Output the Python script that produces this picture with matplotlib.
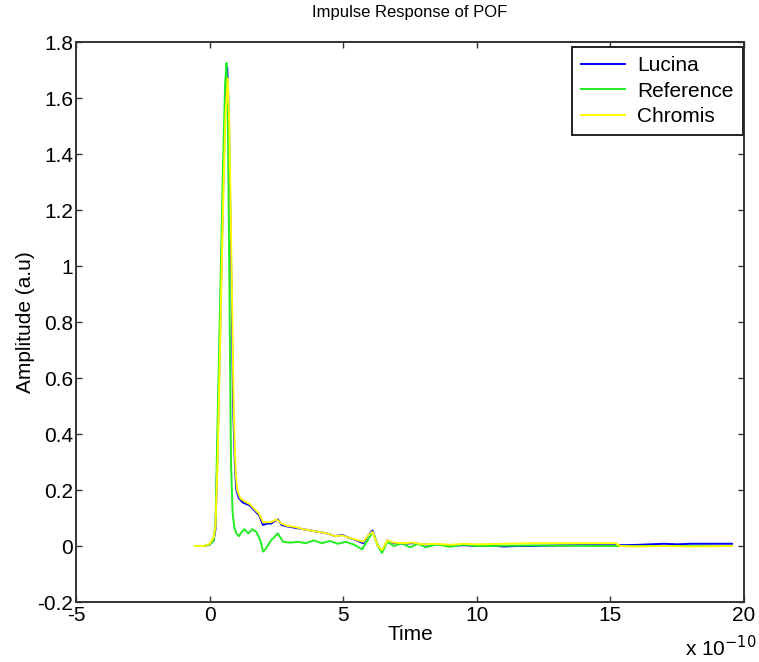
import matplotlib
matplotlib.use('Agg')
import matplotlib.pyplot as plt

plt.rcParams['font.family'] = ['Liberation Sans', 'DejaVu Sans']

# time in units of 1e-10 s
lucina_t = [-0.55, -0.2, 0.0, 0.15, 0.22, 0.3, 0.4, 0.5, 0.6, 0.66, 0.72, 0.8, 0.88, 0.95,
            1.0, 1.1, 1.25, 1.5, 1.7, 1.85, 2.0, 2.15, 2.3, 2.45, 2.55, 2.7, 2.9, 3.2, 3.5,
            3.8, 4.1, 4.4, 4.7, 4.95, 5.2, 5.5, 5.75, 5.95, 6.1, 6.3, 6.45, 6.65, 6.9, 7.2,
            7.6, 8.0, 8.5, 9.0, 9.5, 10.0, 10.5, 11.0, 11.5, 12.0, 13.0, 14.0, 15.0, 15.5,
            16.0, 16.5, 17.0, 17.5, 18.0, 19.0, 19.55]
lucina_a = [0.0, 0.0, 0.005, 0.02, 0.06, 0.35, 0.8, 1.25, 1.6, 1.71, 1.55, 1.05, 0.5, 0.28,
            0.2, 0.17, 0.155, 0.145, 0.125, 0.11, 0.075, 0.08, 0.08, 0.09, 0.095, 0.075, 0.07,
            0.065, 0.06, 0.055, 0.05, 0.045, 0.035, 0.04, 0.03, 0.02, 0.01, 0.04, 0.055, 0.0,
            -0.02, 0.02, 0.01, 0.008, 0.01, 0.005, 0.006, 0.0, 0.003, 0.0, 0.002, -0.002, 0.0,
            0.0, 0.002, 0.003, 0.003, 0.003, 0.004, 0.006, 0.008, 0.006, 0.008, 0.008, 0.008]

ref_t = [-0.55, -0.2, 0.0, 0.15, 0.22, 0.3, 0.4, 0.5, 0.58, 0.63, 0.68, 0.74, 0.8, 0.86,
         0.92, 1.0, 1.1, 1.2, 1.3, 1.45, 1.6, 1.75, 1.9, 2.0, 2.1, 2.3, 2.55, 2.75, 3.0, 3.3,
         3.6, 3.9, 4.2, 4.5, 4.8, 5.1, 5.4, 5.7, 5.85, 6.1, 6.3, 6.45, 6.65, 6.9, 7.2, 7.5,
         7.8, 8.1, 8.5, 9.0, 9.5, 10.0, 12.0, 15.0, 19.55]
ref_a = [0.0, 0.0, 0.005, 0.02, 0.08, 0.45, 0.9, 1.35, 1.65, 1.725, 1.55, 0.95, 0.3, 0.12,
         0.07, 0.045, 0.035, 0.05, 0.06, 0.045, 0.06, 0.05, 0.02, -0.02, -0.01, 0.02, 0.045,
         0.015, 0.012, 0.015, 0.01, 0.02, 0.01, 0.018, 0.008, 0.015, 0.005, -0.012, 0.01,
         0.05, 0.0, -0.025, 0.015, 0.0, 0.01, -0.005, 0.008, -0.005, 0.006, -0.003, 0.005,
         0.0, 0.002, 0.0, 0.0]

chromis_t = [-0.55, -0.2, 0.0, 0.15, 0.22, 0.3, 0.4, 0.5, 0.6, 0.68, 0.74, 0.82, 0.9, 0.97,
             1.03, 1.15, 1.3, 1.5, 1.7, 1.85, 2.0, 2.15, 2.3, 2.5, 2.7, 2.9, 3.2, 3.5, 3.8,
             4.1, 4.4, 4.7, 4.95, 5.2, 5.5, 5.75, 5.95, 6.1, 6.3, 6.45, 6.65, 6.9, 7.2, 7.6,
             8.0, 8.5, 9.0, 9.5, 10.0, 11.0, 12.0, 13.0, 14.0, 15.0, 15.2, 15.35, 16.0, 17.0,
             18.0, 19.55]
chromis_a = [0.0, 0.0, 0.008, 0.03, 0.07, 0.3, 0.75, 1.2, 1.55, 1.67, 1.5, 1.0, 0.5, 0.27,
             0.2, 0.17, 0.16, 0.15, 0.13, 0.115, 0.085, 0.085, 0.085, 0.095, 0.08, 0.072,
             0.068, 0.06, 0.055, 0.05, 0.045, 0.035, 0.038, 0.03, 0.022, 0.015, 0.04, 0.05,
             0.0, -0.015, 0.02, 0.012, 0.01, 0.012, 0.006, 0.008, 0.004, 0.008, 0.006, 0.008,
             0.01, 0.01, 0.01, 0.01, 0.01, 0.0, -0.002, 0.0, -0.002, 0.0]

xticks = [-5, 0, 5, 10, 15, 20]
yticks = [-0.2, 0, 0.2, 0.4, 0.6, 0.8, 1, 1.2, 1.4, 1.6, 1.8]
ytick_labels = ['-0.2', '0', '0.2', '0.4', '0.6', '0.8', '1', '1.2', '1.4', '1.6', '1.8']

fig = plt.figure(figsize=(7.59, 6.62), dpi=100)
ax = fig.add_axes([76 / 759, 1 - 602 / 662, 668 / 759, 560 / 662])

ax.plot(lucina_t, lucina_a, color='#0000ff', lw=1.4, label='Lucina')
ax.plot(ref_t, ref_a, color='#22ee22', lw=1.4, label='Reference')
ax.plot(chromis_t, chromis_a, color='#ffff00', lw=1.4, label='Chromis')

ax.set_xlim(-5, 20)
ax.set_ylim(-0.2, 1.8)
ax.set_xticks(xticks)
ax.set_xticklabels([str(x) for x in xticks])
ax.set_yticks(yticks)
ax.set_yticklabels(ytick_labels)
ax.tick_params(direction='in', top=True, right=True, length=4, width=1,
               labelsize=15, pad=2, color='#333333')
ax.tick_params(axis='x', pad=3)
for s in ax.spines.values():
    s.set_color('#333333')
    s.set_linewidth(1.4)

ax.set_title('Impulse Response of POF', fontsize=12, pad=18)
ax.set_xlabel('Time', fontsize=15, labelpad=0)
ax.set_ylabel('Amplitude (a.u)', fontsize=15, labelpad=2)
# MATLAB-style exponent label under the right end of the x axis
fig.text(685 / 759, 1 - 660 / 662, r'x 10$^{-10}$', fontsize=15, ha='left', va='bottom')

leg = ax.legend(loc='upper right', bbox_to_anchor=(743 / 759, 1 - 47 / 662),
                bbox_transform=fig.transFigure, borderaxespad=0, fancybox=False,
                fontsize=15, handlelength=2.1, handletextpad=0.6, labelspacing=0.3,
                borderpad=0.45, framealpha=1)
leg.get_frame().set_edgecolor('#222222')
leg.get_frame().set_linewidth(1.4)

fig.savefig('out.png', dpi=100)
